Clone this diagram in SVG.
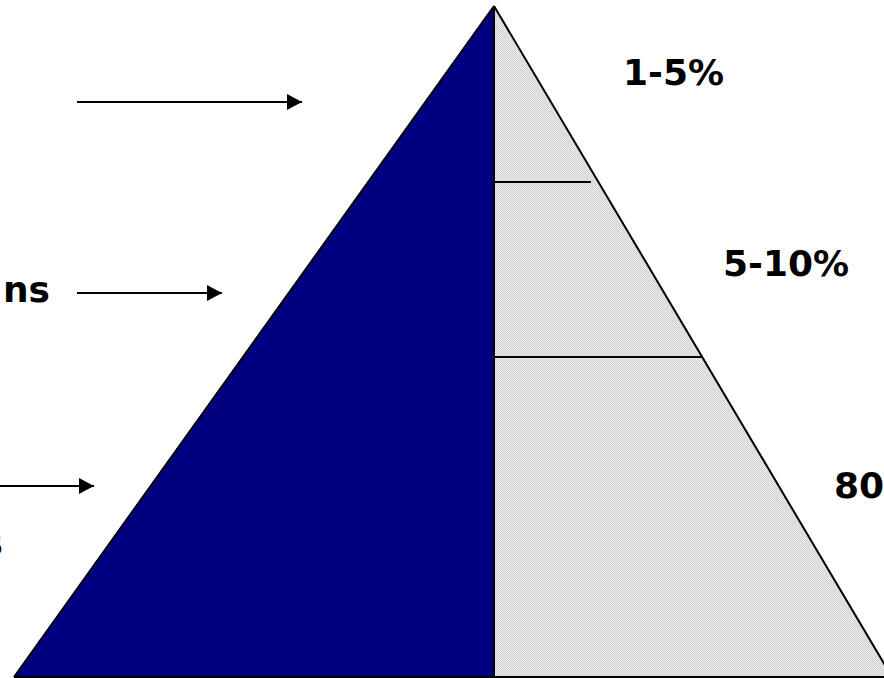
<svg xmlns="http://www.w3.org/2000/svg" width="884" height="678" viewBox="0 0 884 678">
  <style>
    .lbl { font-family: "DejaVu Sans", Verdana, sans-serif; font-weight: bold; font-size: 36px; fill: #000; }
    .edge { stroke: #000; stroke-width: 2; fill: none; }
    .conn { stroke: #000; stroke-width: 2; fill: none; }
  </style>
  <defs>
    <pattern id="dots" width="2" height="2" patternUnits="userSpaceOnUse">
      <rect width="2" height="2" fill="#eaeaea"/>
      <rect width="1" height="1" fill="#d2d2d2"/>
      <rect x="1" y="1" width="1" height="1" fill="#d2d2d2"/>
    </pattern>
    <marker id="arrow" markerUnits="userSpaceOnUse" markerWidth="16" markerHeight="18" refX="15" refY="8" orient="auto">
      <path d="M0,0 L15,8 L0,16 Z" fill="#000"/>
    </marker>
  </defs>
  <rect width="884" height="678" fill="#fff"/>

  <g id="pyramid-left">
    <polygon points="494,6 14,677 494,677" fill="#000080"/>
    <line class="edge" x1="494" y1="6" x2="14" y2="677"/>
  </g>
  <g id="pyramid-right">
    <polygon points="494,6 892,677 494,677" fill="url(#dots)"/>
    <line class="edge" x1="494" y1="6" x2="892" y2="677"/>
    <line class="edge" x1="494" y1="6" x2="494" y2="677"/>
    <line class="edge" x1="14" y1="677" x2="892" y2="677"/>
  </g>
  <g id="tier-top">
    <line class="edge" x1="494" y1="182" x2="591" y2="182"/>
    <text class="lbl" x="623" y="85">1-5%</text>
  </g>
  <g id="tier-middle">
    <line class="edge" x1="494" y1="357" x2="703" y2="357"/>
    <text class="lbl" x="723" y="276">5-10%</text>
  </g>
  <g id="tier-bottom">
    <text class="lbl" x="834" y="498">80-</text>
  </g>
  <g id="left-label-2">
    <text class="lbl" x="50" y="302" text-anchor="end">ns</text>
  </g>
  <g id="left-label-3">
    <text class="lbl" x="3" y="555" text-anchor="end">s</text>
  </g>

  <g id="connectors">
    <line class="conn" x1="77" y1="102" x2="302" y2="102" marker-end="url(#arrow)"/>
    <line class="conn" x1="77" y1="293" x2="222" y2="293" marker-end="url(#arrow)"/>
    <line class="conn" x1="0" y1="486" x2="94" y2="486" marker-end="url(#arrow)"/>
  </g>
</svg>
